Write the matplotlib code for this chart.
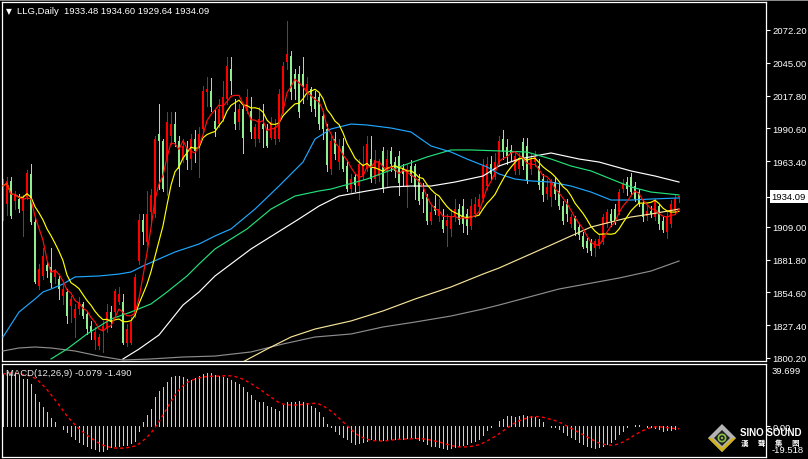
import numpy as np
import pandas as pd
import matplotlib
matplotlib.use("Agg")
import matplotlib.pyplot as plt
import matplotlib.transforms as mtransforms
from matplotlib.patches import Polygon, Circle, Rectangle

# daily candles, oldest first
opens = [
    1921, 1928, 1947, 1930, 1932, 1922, 1934, 1953, 1913, 1860,
    1868, 1877, 1876, 1867, 1866, 1852, 1855, 1843, 1833, 1841,
    1845, 1837, 1827, 1815, 1810, 1823, 1824, 1838, 1838, 1847,
    1847, 1813, 1813, 1837, 1881, 1915, 1896, 1921, 1920, 1986,
    1980, 1965, 1984, 1994, 1980, 1965, 1974, 1965, 1982, 1975,
    1990, 2021, 2022, 1997, 1994, 1998, 2015, 2040, 2004, 1996,
    2007, 2005, 2005, 1982, 1982, 1994, 1990, 1983, 1982, 1982,
    2005, 2046, 2051, 2036, 2036, 2036, 2022, 2023, 2017, 2017,
    2001, 1990, 1957, 1982, 1963, 1976, 1959, 1940, 1950, 1943,
    1951, 1957, 1965, 1949, 1951, 1972, 1955, 1972, 1963, 1968,
    1957, 1942, 1959, 1959, 1949, 1938, 1934, 1914, 1926, 1918,
    1915, 1910, 1907, 1917, 1924, 1926, 1920, 1910, 1920, 1925,
    1932, 1943, 1961, 1950, 1963, 1982, 1975, 1973, 1955, 1957,
    1979, 1976, 1957, 1963, 1959, 1949, 1936, 1934, 1946, 1939,
    1926, 1928, 1911, 1916, 1909, 1901, 1897, 1896, 1891, 1893,
    1896, 1911, 1920, 1924, 1921, 1940, 1946, 1950, 1943, 1938,
    1928, 1918, 1922, 1917, 1926, 1914, 1905, 1911, 1922, 1933.48,
]
highs = [
    1949, 1950, 1950, 1939, 1936, 1935, 1956, 1961, 1916, 1878,
    1891, 1881, 1891, 1874, 1868, 1861, 1857, 1852, 1845, 1851,
    1847, 1839, 1831, 1826, 1820, 1831, 1845, 1843, 1857, 1859,
    1853, 1828, 1834, 1870, 1920, 1920, 1939, 1940, 1984, 2011,
    1982, 2004, 2004, 2004, 1984, 1982, 1980, 1986, 1989, 1992,
    2026, 2033, 2032, 2007, 2015, 2030, 2050, 2050, 2015, 2011,
    2011, 2023, 2017, 1994, 2008, 2011, 1994, 2000, 1998, 2023,
    2046, 2080, 2055, 2040, 2042, 2050, 2033, 2025, 2022, 2019,
    2005, 1994, 1984, 1988, 1982, 1983, 1964, 1953, 1953, 1965,
    1976, 1984, 1984, 1973, 1965, 1975, 1973, 1975, 1967, 1972,
    1961, 1961, 1964, 1961, 1953, 1945, 1936, 1928, 1935, 1932,
    1924, 1920, 1924, 1932, 1928, 1932, 1924, 1932, 1934, 1936,
    1965, 1967, 1968, 1970, 1984, 1989, 1982, 1977, 1972, 1970,
    1983, 1983, 1969, 1972, 1965, 1953, 1949, 1949, 1950, 1945,
    1930, 1932, 1920, 1918, 1911, 1905, 1900, 1899, 1899, 1902,
    1920, 1924, 1924, 1928, 1940, 1949, 1950, 1954, 1946, 1940,
    1932, 1926, 1926, 1932, 1928, 1917, 1921, 1931, 1935, 1934.60,
]
lows = [
    1915, 1919, 1916, 1924, 1921, 1901, 1932, 1911, 1862, 1857,
    1866, 1867, 1859, 1862, 1849, 1845, 1829, 1830, 1818, 1837,
    1833, 1820, 1816, 1808, 1808, 1805, 1822, 1826, 1836, 1845,
    1812, 1810, 1812, 1834, 1878, 1895, 1894, 1911, 1917, 1940,
    1939, 1935, 1978, 1976, 1943, 1963, 1957, 1957, 1963, 1950,
    1988, 2009, 2005, 1984, 1992, 1997, 2011, 2019, 1990, 1990,
    1970, 2003, 1983, 1976, 1979, 1975, 1975, 1982, 1978, 1980,
    2003, 2040, 2015, 2015, 2000, 2012, 2015, 2005, 2001, 1990,
    1982, 1955, 1953, 1965, 1957, 1955, 1939, 1938, 1939, 1932,
    1949, 1955, 1946, 1945, 1947, 1938, 1943, 1955, 1950, 1935,
    1944, 1925, 1946, 1932, 1928, 1921, 1911, 1911, 1920, 1914,
    1905, 1893, 1901, 1914, 1911, 1905, 1903, 1907, 1917, 1920,
    1930, 1940, 1949, 1949, 1959, 1965, 1961, 1964, 1953, 1953,
    1957, 1945, 1953, 1959, 1940, 1930, 1932, 1926, 1932, 1924,
    1911, 1914, 1909, 1902, 1899, 1891, 1888, 1886, 1885, 1891,
    1895, 1909, 1910, 1911, 1920, 1938, 1935, 1936, 1930, 1926,
    1914, 1915, 1917, 1915, 1907, 1905, 1900, 1909, 1920, 1929.64,
]
closes = [
    1943, 1947, 1918, 1935, 1924, 1934, 1954, 1913, 1863, 1874,
    1885, 1872, 1862, 1872, 1857, 1857, 1835, 1849, 1841, 1847,
    1835, 1824, 1822, 1822, 1818, 1827, 1838, 1830, 1856, 1853,
    1813, 1824, 1830, 1867, 1915, 1905, 1920, 1935, 1982, 1980,
    1940, 1996, 1994, 1979, 1957, 1976, 1964, 1982, 1972, 1986,
    2022, 2023, 2008, 1990, 2007, 2017, 2042, 2030, 1994, 2007,
    1983, 2017, 1988, 1992, 1998, 1990, 1976, 1996, 1992, 2019,
    2042, 2052, 2021, 2023, 2004, 2026, 2027, 2009, 2007, 1994,
    1990, 1960, 1980, 1969, 1976, 1957, 1940, 1949, 1944, 1961,
    1961, 1978, 1949, 1964, 1963, 1940, 1965, 1961, 1955, 1945,
    1953, 1957, 1951, 1942, 1930, 1932, 1914, 1921, 1922, 1924,
    1907, 1915, 1918, 1924, 1915, 1911, 1910, 1926, 1928, 1932,
    1959, 1961, 1953, 1963, 1980, 1971, 1968, 1969, 1968, 1965,
    1959, 1947, 1965, 1967, 1944, 1935, 1942, 1946, 1936, 1926,
    1914, 1920, 1917, 1906, 1902, 1892, 1891, 1889, 1897, 1899,
    1917, 1921, 1914, 1913, 1938, 1945, 1940, 1938, 1932, 1928,
    1917, 1922, 1920, 1930, 1911, 1906, 1918, 1928, 1932, 1934.09,
]

# longer moving averages as (candle index, price)
blue_idx = [0, 4, 8, 10, 12, 15, 18, 24, 29, 32, 35, 39, 43, 49, 53, 57, 63, 69, 75,
            78, 82, 87, 91, 97, 102, 107, 112, 116, 121, 124, 128, 132, 137, 142,
            147, 152, 157, 162, 169]
blue_val = [1817.6, 1838.3, 1849.1, 1854.9, 1857.4, 1861.5, 1867.4, 1868.2, 1869.8,
            1871.5, 1876.5, 1882.3, 1888.1, 1894.7, 1901.4, 1907.2, 1923.7, 1942.8,
            1962.7, 1981.8, 1990.1, 1994.2, 1993.4, 1990.9, 1987.6, 1976.0, 1971.0,
            1965.2, 1958.6, 1952.8, 1948.6, 1947.0, 1946.1, 1942.8, 1937.8, 1931.2,
            1931.2, 1932.0, 1932.9]
green_idx = [12, 16, 21, 27, 32, 37, 41, 46, 49, 53, 61, 67, 73, 79, 82, 91, 99, 106,
             112, 117, 124, 131, 137, 142, 147, 152, 157, 162, 169]
green_val = [1799.4, 1807.6, 1820.1, 1832.5, 1838.3, 1845.0, 1854.9, 1868.2, 1878.1,
             1890.6, 1907.2, 1923.7, 1934.5, 1938.7, 1940.3, 1948.6, 1958.6, 1966.9,
             1972.7, 1972.7, 1971.9, 1971.0, 1965.2, 1959.4, 1955.3, 1948.6, 1942.0,
             1937.8, 1935.4]
white_idx = [30, 34, 39, 45, 49, 53, 62, 70, 74, 79, 84, 91, 97, 102, 107, 113, 120,
             124, 129, 137, 144, 149, 157, 163, 169]
white_val = [1799.4, 1807.6, 1819.3, 1844.1, 1854.9, 1868.2, 1890.6, 1907.2, 1915.5,
             1926.2, 1934.5, 1938.7, 1942.0, 1942.8, 1942.8, 1946.1, 1951.1, 1959.4,
             1965.2, 1970.2, 1965.2, 1962.7, 1955.3, 1951.1, 1946.1]
cream_idx = [60, 66, 72, 78, 87, 95, 103, 112, 120, 124, 137, 142, 147, 152, 157, 162, 169]
cream_val = [1797.0, 1807.6, 1817.6, 1824.2, 1830.9, 1839.2, 1849.1, 1859.1, 1869.8,
             1874.8, 1893.9, 1901.4, 1908.8, 1913.0, 1917.1, 1919.6, 1923.7]
gray_idx = [0, 4, 8, 12, 18, 24, 30, 37, 45, 53, 62, 70, 78, 87, 95, 103, 112, 120,
            124, 139, 154, 162, 169]
gray_val = [1806.0, 1808.5, 1809.3, 1808.5, 1806.0, 1801.8, 1798.5, 1799.4, 1801.0,
            1801.8, 1805.2, 1811.8, 1817.6, 1820.1, 1825.9, 1830.0, 1835.0, 1840.8,
            1844.1, 1857.4, 1866.5, 1872.3, 1880.6]

# MACD(12,26,9) main line, one value per candle
macd_main = [
    33.3, 34.4, 34.4, 33.3, 32.2, 30.1, 30.1, 26.9, 20.6, 15.7,
    12.1, 8.9, 5.1, 2.9, 0.3, -1.7, -3.8, -6.4, -8.1, -9.8,
    -11.3, -12.7, -14.0, -14.5, -15.5, -15.5, -14.5, -13.4, -12.7, -12.4,
    -12.0, -12.0, -10.6, -9.2, -3.0, 2.9, 7.2, 11.0, 18.5, 22.7,
    24.8, 28.4, 31.2, 32.2, 32.2, 31.2, 30.1, 29.7, 30.6, 32.2,
    33.3, 33.9, 33.9, 32.6, 31.8, 31.2, 30.6, 29.7, 28.4, 26.9,
    24.8, 22.0, 20.0, 17.0, 15.3, 15.7, 13.2, 12.1, 11.0, 10.0,
    13.4, 15.7, 15.7, 15.7, 16.3, 15.7, 14.9, 13.2, 11.5, 8.9,
    5.7, 1.5, -0.6, -2.8, -4.9, -7.0, -8.1, -10.2, -11.3, -10.6,
    -9.8, -9.1, -8.1, -8.1, -8.5, -8.5, -8.1, -8.1, -8.1, -7.6,
    -8.1, -7.4, -7.0, -7.6, -8.5, -9.1, -11.3, -12.3, -12.7, -13.4,
    -14.0, -14.4, -14.0, -13.4, -12.3, -11.9, -11.3, -10.2, -9.1, -8.1,
    -5.5, -2.1, -0.2, 0.2, 3.6, 4.7, 6.4, 6.8, 5.7, 6.4,
    7.2, 6.4, 6.4, 5.7, 4.7, 2.5, 0.4, -0.1, -0.2, -1.7,
    -3.8, -5.5, -7.0, -8.1, -9.8, -11.3, -12.7, -13.4, -14.0, -13.4,
    -12.3, -11.3, -9.8, -8.1, -4.9, -2.8, -0.6, 0.2, 0.8, 0.8,
    0.4, -0.6, -0.4, -0.9, -2.0, -2.8, -2.63, -2.2, -1.8, -0.079,
]

price_ticks = [1800.20, 1827.40, 1854.60, 1881.80, 1909.00,
               1963.40, 1990.60, 2017.80, 2045.00, 2072.20]
last_price = 1934.09
macd_top, macd_bottom = 39.699, -19.518

FONT = ["Liberation Sans", "DejaVu Sans"]
plt.rcParams["font.family"] = FONT

o = np.array(opens)
h = np.array(highs)
l = np.array(lows)
c = np.array(closes)
idx = np.arange(len(c))

ma5 = pd.Series(c).rolling(5, min_periods=1).mean()
ma10 = pd.Series(c).rolling(10, min_periods=1).mean()
signal = pd.Series(macd_main).rolling(9, min_periods=1).mean()

W, H = 808, 460
fig = plt.figure(figsize=(W / 100, H / 100), dpi=100, facecolor="black")

# main price panel
ax = fig.add_axes([2 / W, 1 - 362 / H, 764 / W, 359 / H], facecolor="black")
up = c >= o
cols = np.where(up, "#ff0000", "#90ee90")
ax.vlines(idx, l, h, colors=cols, linewidth=0.72, antialiased=False, zorder=2)
body_lo = np.minimum(o, c)
body_h = np.maximum(np.abs(c - o), 0.7)
ax.bar(idx, body_h, bottom=body_lo, width=0.7, color=cols, linewidth=0,
       antialiased=False, zorder=2)

lw = 0.85
ax.plot(gray_idx, gray_val, color="#8c8c8c", lw=lw, zorder=3)
ax.plot(cream_idx, cream_val, color="#f5e39a", lw=lw, zorder=3)
ax.plot(white_idx, white_val, color="#ffffff", lw=lw, zorder=3)
ax.plot(green_idx, green_val, color="#22e07a", lw=lw, zorder=3)
ax.plot(blue_idx, blue_val, color="#1ea7ff", lw=lw, zorder=3)
ax.plot(idx, ma10, color="#ffff00", lw=lw, zorder=4)
ax.plot(idx, ma5, color="#ff1010", lw=lw, zorder=5)

ax.set_xlim(-0.25, 190.75)
ax.set_ylim(1797.7, 2095.4)
ax.set_xticks([])
ax.yaxis.tick_right()
ax.set_yticks(price_ticks + [last_price])
ax.set_yticklabels([f"{v:.2f}" for v in price_ticks] + [""])
ax.tick_params(axis="y", colors="white", direction="out", length=3, width=0.8,
               pad=1.5, labelsize=6.8)
for s in ax.spines.values():
    s.set_color("white")
    s.set_linewidth(0.9)

trans = mtransforms.blended_transform_factory(ax.transAxes, ax.transData)
ax.text(1.0075, last_price, f"{last_price:.2f}", transform=trans, ha="left",
        va="center", fontsize=6.8, color="black",
        bbox=dict(boxstyle="square,pad=0.18", fc="white", ec="none"))

# MACD panel
ax2 = fig.add_axes([2 / W, 1 - 458 / H, 764 / W, 93 / H], facecolor="black")
ax2.vlines(idx, 0, macd_main, colors="#cfcfcf", linewidth=0.72, antialiased=False)
ax2.plot(idx, signal, color="#ff0000", lw=1.0, ls=(0, (2.2, 2.2)))
ax2.set_xlim(-0.25, 190.75)
ax2.set_ylim(macd_bottom, macd_top)
ax2.set_xticks([])
ax2.yaxis.tick_right()
ax2.set_yticks([0.0])
ax2.set_yticklabels(["0.00"])
ax2.tick_params(axis="y", colors="white", direction="out", length=3, width=0.8,
                pad=1.5, labelsize=6.8)
for s in ax2.spines.values():
    s.set_color("white")
    s.set_linewidth(0.9)
ax2.text(1.007, 0.935, f"{macd_top:.3f}", transform=ax2.transAxes, ha="left",
         va="center", fontsize=6.8, color="white")
ax2.text(1.007, 0.085, f"{macd_bottom:.3f}", transform=ax2.transAxes, ha="left",
         va="center", fontsize=6.8, color="white", zorder=6)

# labels on top of the panels, placed in pixel space
over = fig.add_axes([0, 0, 1, 1], facecolor="none")
over.set_xlim(0, W)
over.set_ylim(H, 0)
over.axis("off")
over.add_patch(Rectangle((0, 0), W, 1.6, color="#8a8a8a", lw=0))
over.text(6, 12, "\u25bc", fontsize=5.5, color="white", va="center", ha="left",
          family=["DejaVu Sans"])
over.text(17, 12, "LLG,Daily  1933.48 1934.60 1929.64 1934.09", fontsize=6.8,
          color="white", va="center", ha="left")
over.text(6, 373.5, f"MACD(12,26,9) {macd_main[-1]:.3f} {signal.iloc[-1]:.3f}",
          fontsize=6.8, color="#e8e8e8", va="center", ha="left")

# logo
cx, cy = 722, 439
over.add_patch(Polygon([(cx, cy - 14), (cx + 14, cy), (cx, cy + 14), (cx - 14, cy)],
                       closed=True, fc="#b4b4b4", ec="none"))
over.add_patch(Polygon([(cx + 14, cy), (cx, cy + 14), (cx - 14, cy), (cx - 10, cy),
                        (cx, cy + 10), (cx + 10, cy)], closed=True, fc="#d2b21c", ec="none"))
over.add_patch(Polygon([(cx, cy - 8), (cx + 8, cy), (cx, cy + 8), (cx - 8, cy)],
                       closed=True, fc="#202020", ec="none"))
over.add_patch(Circle((cx, cy), 3.6, fc="none", ec="#8bc34a", lw=1.2))
over.add_patch(Circle((cx, cy), 1.2, fc="#8bc34a", ec="none"))
over.text(740, 433.5, "SINO SOUND", fontsize=7.0, fontweight="bold", color="white",
          va="center", ha="left")
for x0, ch in zip([741, 758, 775, 791], "漢聲集團"):
    over.text(x0, 443.5, ch, fontsize=5.4, color="white", va="center", ha="left",
              family=["Noto Sans CJK TC", "DejaVu Sans"], fontweight="bold")

fig.savefig("out.png", dpi=100, facecolor="black")
